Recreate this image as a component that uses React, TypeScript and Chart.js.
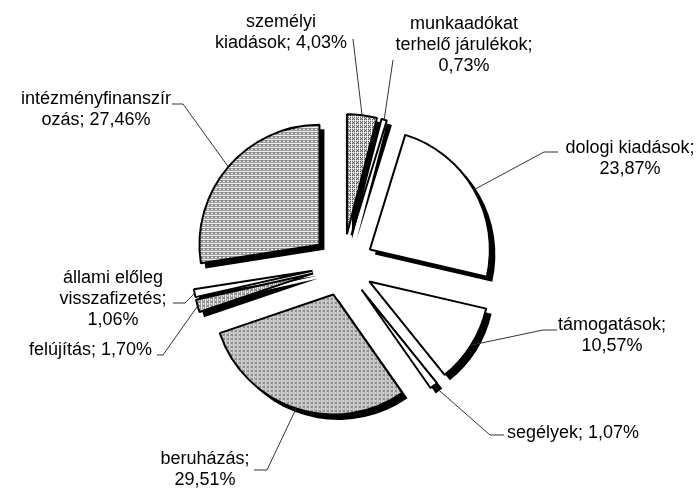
import React, { useEffect, useRef } from 'react';
import { Chart, registerables } from 'chart.js';

Chart.register(...registerables);

// ---- data ----
const categories = [
  'személyi kiadások',
  'munkaadókat terhelő járulékok',
  'dologi kiadások',
  'támogatások',
  'segélyek',
  'beruházás',
  'felújítás',
  'állami előleg visszafizetés',
  'intézményfinanszírozás',
];
const shares = [4.03, 0.73, 23.87, 10.57, 1.07, 29.51, 1.7, 1.06, 27.46];
const labelLines = [
  ['személyi', 'kiadások; 4,03%'],
  ['munkaadókat', 'terhelő járulékok;', '0,73%'],
  ['dologi kiadások;', '23,87%'],
  ['támogatások;', '10,57%'],
  ['segélyek; 1,07%'],
  ['beruházás;', '29,51%'],
  ['felújítás; 1,70%'],
  ['állami előleg', 'visszafizetés;', '1,06%'],
  ['intézményfinanszír', 'ozás; 27,46%'],
];
const fillKinds = ['dots', 'plain', 'plain', 'plain', 'plain', 'dots', 'dots', 'plain', 'dots'];

// ---- layout / style ----
const W = 698;
const H = 492;
const EXPLODE = 31;
const SHADOW_X = 5;
const SHADOW_Y = 5;
const FONT = '18px "Liberation Sans", Arial, sans-serif';
const LINE_H = 21;
type Layout = { x: number; y: number; align: CanvasTextAlign; leader: number[][] };
const labelLayout: Layout[] = [
  { x: 281, y: 27, align: 'center', leader: [[353, 39]] },
  { x: 464, y: 29, align: 'center', leader: [[393, 60]] },
  { x: 630, y: 153, align: 'center', leader: [[544, 152], [558, 152]] },
  { x: 612, y: 330, align: 'center', leader: [[543, 330], [557, 330]] },
  { x: 507, y: 438, align: 'left', leader: [[490, 435], [504, 435]] },
  { x: 205, y: 464, align: 'center', leader: [[267, 470], [254, 470]] },
  { x: 152, y: 355, align: 'right', leader: [[163, 355], [157, 355]] },
  { x: 113, y: 283, align: 'center', leader: [[185, 303], [173, 303]] },
  { x: 96, y: 104, align: 'center', leader: [[183, 104], [172, 104]] },
];

function makeDotPattern(ctx: CanvasRenderingContext2D): CanvasPattern | string {
  const c = document.createElement('canvas');
  c.width = 4;
  c.height = 4;
  const p = c.getContext('2d');
  if (!p) return '#b4b4b4';
  const bayer = [
    [0, 8, 2, 10],
    [12, 4, 14, 6],
    [3, 11, 1, 9],
    [15, 7, 13, 5],
  ];
  p.fillStyle = '#ffffff';
  p.fillRect(0, 0, 4, 4);
  p.fillStyle = '#1a1a1a';
  for (let r = 0; r < 4; r++) {
    for (let q = 0; q < 4; q++) {
      if (bayer[r][q] < 5) p.fillRect(q, r, 1, 1);
    }
  }
  return ctx.createPattern(c, 'repeat') || '#b4b4b4';
}

const explodePlugin = {
  id: 'explodeShadow',
  beforeDatasetDraw(chart: any, args: any) {
    const ctx: CanvasRenderingContext2D = chart.ctx;
    const arcs = args.meta.data;
    ctx.save();
    ctx.fillStyle = '#000';
    arcs.forEach((arc: any) => {
      const { x, y, startAngle, endAngle, outerRadius } = arc;
      const mid = (startAngle + endAngle) / 2;
      const cx = x + Math.cos(mid) * EXPLODE + SHADOW_X;
      const cy = y + Math.sin(mid) * EXPLODE + SHADOW_Y;
      ctx.beginPath();
      ctx.moveTo(cx, cy);
      ctx.arc(cx, cy, outerRadius + 0.5, startAngle, endAngle);
      ctx.closePath();
      ctx.fill();
    });
    ctx.restore();
    arcs.forEach((arc: any) => {
      const mid = (arc.startAngle + arc.endAngle) / 2;
      ctx.save();
      ctx.translate(Math.cos(mid) * EXPLODE, Math.sin(mid) * EXPLODE);
      arc.draw(ctx);
      ctx.restore();
    });
    return false;
  },
  afterDatasetsDraw(chart: any) {
    const ctx: CanvasRenderingContext2D = chart.ctx;
    const arcs = chart.getDatasetMeta(0).data;
    ctx.save();
    arcs.forEach((arc: any, i: number) => {
      const lay = labelLayout[i];
      const mid = (arc.startAngle + arc.endAngle) / 2;
      const sx = arc.x + Math.cos(mid) * (EXPLODE + arc.outerRadius);
      const sy = arc.y + Math.sin(mid) * (EXPLODE + arc.outerRadius);
      ctx.strokeStyle = '#333';
      ctx.lineWidth = 1;
      ctx.beginPath();
      ctx.moveTo(sx, sy);
      lay.leader.forEach((pt) => ctx.lineTo(pt[0], pt[1]));
      ctx.stroke();
      ctx.fillStyle = '#000';
      ctx.font = FONT;
      ctx.textAlign = lay.align;
      ctx.textBaseline = 'alphabetic';
      labelLines[i].forEach((line, k) => {
        ctx.fillText(line, lay.x, lay.y + k * LINE_H);
      });
    });
    ctx.restore();
  },
};

export default function App() {
  const ref = useRef<HTMLCanvasElement | null>(null);
  useEffect(() => {
    document.body.style.margin = '0';
    const canvas = ref.current;
    if (!canvas) return;
    const ctx = canvas.getContext('2d');
    if (!ctx) return;
    const dots = makeDotPattern(ctx);
    const colors = fillKinds.map((k) => (k === 'dots' ? dots : '#ffffff'));
    const chart = new Chart(canvas, {
      type: 'pie',
      data: {
        labels: categories,
        datasets: [
          {
            data: shares,
            backgroundColor: colors as any,
            borderColor: '#000',
            borderWidth: 2,
            hoverOffset: 0,
          },
        ],
      },
      options: {
        animation: false,
        responsive: false,
        devicePixelRatio: 1,
        events: [],
        layout: { padding: { left: 222, right: 234, top: 144, bottom: 106 } },
        plugins: {
          legend: { display: false },
          tooltip: { enabled: false },
        },
      },
      plugins: [explodePlugin],
    });
    return () => chart.destroy();
  }, []);
  return (
    <div style={{ position: 'absolute', left: 0, top: 0, width: W, height: H, background: '#fff' }}>
      <canvas ref={ref} width={W} height={H} style={{ width: W, height: H, display: 'block' }} />
    </div>
  );
}
